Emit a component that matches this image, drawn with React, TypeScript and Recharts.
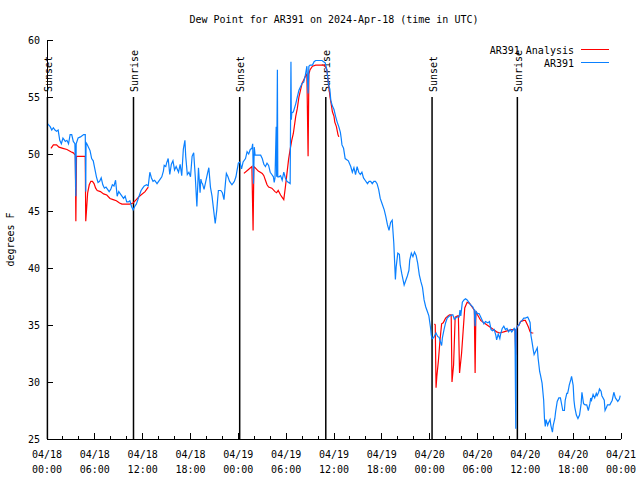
import { LineChart, Line, XAxis, YAxis, ReferenceLine, Legend } from 'recharts'

const FONT = "'DejaVu Sans Mono', 'Liberation Mono', monospace"

type Row = [number, number | null]

// hours since 04/18 00:00 UTC, dew point in F
const ar391Analysis: Row[] = [
  [0.5, 50.5], [0.8, 50.8], [1.2, 50.8], [1.5, 50.6], [2.0, 50.5], [2.5, 50.4], [3.0, 50.2], [3.3, 50.1],
  [3.55, 49.9], [3.62, 44.1], [3.7, 49.8], [4.4, 49.8], [4.8, 49.8], [4.86, 44.1], [4.95, 45.0], [5.1, 46.6],
  [5.3, 47.3], [5.5, 47.6], [5.7, 47.6], [5.9, 47.4], [6.1, 47.0], [6.3, 46.8], [6.7, 46.7], [7.1, 46.5],
  [7.5, 46.4], [7.9, 46.1], [8.3, 46.0], [8.7, 45.9], [9.1, 45.7], [9.4, 45.6], [9.8, 45.6], [10.4, 45.6],
  [10.8, 45.7], [11.2, 46.0], [11.6, 46.3], [12.3, 46.7], [12.7, 47.1],
  [18.0, null],
  [24.7, 48.3], [25.2, 48.6], [25.7, 48.9], [25.85, 43.3], [25.95, 48.9], [26.1, 48.8], [26.5, 48.5],
  [27.0, 48.3], [27.2, 48.1], [27.4, 47.7], [27.6, 47.3], [27.8, 47.1], [28.2, 47.0], [28.6, 46.7],
  [28.8, 46.6], [29.0, 46.8], [29.3, 46.4], [29.5, 46.2], [29.7, 46.0], [29.9, 47.1], [30.1, 48.3],
  [30.3, 49.5], [30.5, 50.4], [30.7, 51.2], [30.9, 51.8], [31.2, 53.3], [31.4, 54.0], [31.6, 55.0],
  [31.8, 55.6], [32.0, 56.2], [32.2, 56.5], [32.4, 56.8], [32.6, 57.0], [32.75, 49.8], [32.85, 57.0],
  [33.0, 57.4], [33.3, 57.7], [33.7, 57.8], [34.4, 57.8], [34.8, 57.8], [35.1, 57.4], [35.3, 56.2],
  [35.5, 55.0], [35.6, 54.6], [35.8, 53.7], [36.0, 53.3], [36.1, 52.8], [36.3, 52.4], [36.5, 51.7], [36.6, 51.5],
  [42.0, null],
  [48.6, 35.1], [48.7, 35.0], [48.8, 29.5], [48.9, 30.5], [49.1, 31.9], [49.3, 33.7], [49.5, 35.1],
  [49.7, 35.2], [50.0, 35.6], [50.3, 35.8], [50.5, 35.9], [50.7, 35.9], [50.8, 30.0], [51.0, 31.5],
  [51.2, 35.7], [51.5, 35.8], [51.6, 35.8], [51.75, 30.8], [52.0, 32.5], [52.2, 34.5], [52.4, 36.5],
  [52.7, 37.0], [53.0, 36.9], [53.3, 36.6], [53.6, 36.3], [53.7, 30.8], [53.8, 36.2], [54.0, 35.9],
  [54.4, 35.4], [54.8, 35.2], [55.2, 35.0], [55.6, 34.8], [56.0, 34.6], [56.4, 34.4], [56.8, 34.3],
  [57.3, 34.4], [57.8, 34.5], [58.3, 34.6], [58.7, 34.6], [58.8, 32.4], [58.9, 34.7], [59.0, 34.9],
  [59.2, 35.0], [59.4, 35.3], [59.8, 35.4], [60.0, 35.4], [60.2, 35.1], [60.4, 34.8], [60.6, 34.4],
  [60.8, 34.3], [61.0, 34.3],
]

const ar391Obs: Row[] = [
  [0.0, 52.7], [0.4, 52.4], [0.6, 52.1], [0.8, 52.3], [1.0, 52.1], [1.2, 52.0], [1.4, 52.1], [1.6, 51.2],
  [1.8, 50.9], [2.0, 51.4], [2.3, 51.1], [2.5, 51.2], [2.7, 50.9], [2.9, 51.7], [3.1, 51.7], [3.3, 51.1],
  [3.5, 50.9], [3.62, 46.3], [3.66, 50.9], [3.9, 51.4], [4.2, 51.5], [4.4, 51.6], [4.6, 51.7], [4.8, 51.7],
  [4.86, 46.7], [4.9, 51.0], [5.0, 50.9], [5.2, 50.6], [5.4, 50.3], [5.6, 49.6], [5.8, 49.4], [6.0, 48.7],
  [6.2, 48.0], [6.4, 47.5], [6.6, 47.6], [6.8, 47.9], [7.0, 47.3], [7.2, 47.0], [7.4, 47.1], [7.6, 46.9],
  [7.8, 46.7], [8.0, 46.9], [8.2, 47.3], [8.4, 47.2], [8.6, 47.7], [8.8, 46.3], [9.0, 46.7], [9.2, 46.5],
  [9.4, 46.3], [9.6, 46.1], [9.8, 46.3], [10.0, 45.8], [10.2, 45.8], [10.4, 45.9], [10.6, 45.4], [10.8, 45.1],
  [11.0, 45.4], [11.2, 45.6], [11.4, 46.0], [11.6, 46.4], [11.8, 46.8], [12.0, 47.0], [12.2, 47.2], [12.5, 47.3],
  [12.7, 47.2], [12.9, 48.4], [13.1, 47.9], [13.3, 47.6], [13.5, 47.7], [13.8, 47.4], [14.0, 47.6], [14.2, 47.8],
  [14.4, 48.0], [14.6, 48.5], [14.7, 49.0], [14.9, 48.9], [15.0, 49.2], [15.2, 49.6], [15.4, 48.2], [15.6, 49.1],
  [15.8, 49.4], [16.0, 48.6], [16.2, 48.9], [16.5, 48.4], [16.7, 49.1], [16.9, 48.1], [17.1, 50.4], [17.3, 51.2],
  [17.4, 49.8], [17.6, 48.2], [17.8, 48.4], [18.0, 48.0], [18.2, 49.8], [18.4, 50.1], [18.6, 48.0], [18.8, 45.4],
  [19.0, 48.8], [19.2, 46.6], [19.3, 47.8], [19.4, 47.5], [19.5, 47.4], [19.7, 46.9], [20.1, 48.2], [20.3, 48.8],
  [20.5, 47.1], [20.7, 46.3], [20.9, 45.1], [21.1, 43.9], [21.3, 45.1], [21.4, 46.0], [21.5, 46.8], [21.8, 46.8],
  [22.0, 46.6], [22.2, 46.0], [22.4, 47.6], [22.5, 48.3], [22.7, 48.0], [22.9, 47.6], [23.2, 47.3], [23.5, 47.6],
  [23.7, 48.0], [24.0, 49.2], [24.2, 49.3], [24.4, 48.7], [24.6, 49.3], [24.9, 49.6], [25.1, 50.2], [25.3, 50.0],
  [25.5, 50.4], [25.7, 50.5], [25.8, 50.9], [25.9, 47.4], [26.0, 50.6], [26.1, 49.9], [26.5, 49.9], [26.8, 49.9],
  [27.0, 49.6], [27.2, 49.1], [27.4, 48.9], [27.6, 49.2], [27.8, 49.0], [28.0, 48.4], [28.2, 48.2], [28.4, 48.0],
  [28.5, 47.5], [28.6, 47.9], [28.75, 52.4], [28.8, 48.0], [28.9, 57.4], [28.95, 48.0], [29.1, 48.0], [29.3, 48.1],
  [29.5, 47.7], [29.7, 48.4], [29.9, 47.9], [30.1, 47.6], [30.5, 47.4], [30.6, 58.1], [30.65, 53.0], [30.7, 53.6],
  [30.9, 53.7], [31.2, 54.4], [31.4, 55.0], [31.6, 55.6], [31.8, 55.9], [32.0, 56.2], [32.2, 56.3], [32.4, 56.9],
  [32.5, 57.3], [32.6, 57.7], [32.75, 55.3], [32.85, 57.7], [33.0, 57.8], [33.3, 57.8], [33.5, 58.1], [33.7, 58.2],
  [34.1, 58.2], [34.5, 58.2], [34.7, 58.1], [34.9, 58.0], [35.1, 57.4], [35.3, 56.2], [35.5, 55.5], [35.6, 54.7],
  [35.8, 54.2], [36.0, 53.9], [36.2, 53.3], [36.4, 52.8], [36.6, 52.4], [36.8, 51.9], [36.9, 51.4], [37.0, 50.8],
  [37.2, 50.5], [37.4, 49.6], [37.6, 49.5], [37.8, 49.4], [38.1, 48.9], [38.3, 48.4], [38.5, 48.8], [38.7, 48.2],
  [38.9, 48.9], [39.1, 48.4], [39.3, 48.2], [39.5, 48.4], [39.7, 47.9], [39.9, 47.7], [40.2, 47.4], [40.4, 47.6],
  [40.6, 47.6], [40.8, 47.4], [41.0, 47.6], [41.2, 47.6], [41.4, 47.4], [41.6, 46.9], [41.8, 46.1], [42.0, 45.7],
  [42.3, 45.1], [42.5, 44.5], [42.7, 43.8], [42.9, 43.3], [43.1, 44.0], [43.3, 44.2], [43.5, 42.2], [43.7, 39.0],
  [43.8, 40.1], [44.0, 41.3], [44.2, 41.2], [44.3, 40.3], [44.5, 39.5], [44.8, 38.5], [45.0, 38.9], [45.2, 39.3],
  [45.4, 39.8], [45.5, 40.7], [45.7, 41.3], [45.9, 41.0], [46.1, 41.4], [46.3, 41.1], [46.5, 40.4], [46.7, 39.4],
  [46.9, 38.8], [47.1, 38.3], [47.3, 37.2], [47.5, 36.6], [47.7, 36.2], [47.9, 35.8], [48.1, 34.8], [48.2, 34.1],
  [48.3, 33.8], [48.5, 33.9], [48.8, 34.3], [49.0, 34.0], [49.2, 33.9], [49.4, 33.4], [49.5, 33.2], [49.6, 33.9],
  [49.8, 34.6], [50.0, 35.2], [50.2, 35.6], [50.5, 35.8], [50.9, 35.9], [51.1, 35.5], [51.4, 35.7], [51.7, 35.7],
  [51.8, 36.3], [51.9, 35.8], [52.1, 37.0], [52.3, 37.2], [52.5, 37.3], [52.7, 37.2], [52.9, 37.0], [53.1, 36.8],
  [53.4, 36.6], [53.6, 36.3], [53.7, 34.9], [53.8, 36.2], [54.0, 36.0], [54.2, 36.0], [54.4, 35.7], [54.6, 35.4],
  [54.8, 35.1], [55.0, 35.3], [55.3, 35.2], [55.5, 35.3], [55.7, 34.6], [55.9, 34.5], [56.1, 34.6], [56.3, 34.1],
  [56.4, 33.7], [56.6, 34.2], [56.8, 33.8], [56.9, 34.2], [57.1, 34.7], [57.3, 34.9], [57.5, 34.6], [57.7, 34.7],
  [57.9, 34.4], [58.1, 34.6], [58.3, 34.4], [58.6, 34.7], [58.7, 34.6], [58.8, 25.9], [58.85, 34.6], [59.0, 34.9],
  [59.2, 35.0], [59.4, 35.3], [59.6, 35.4], [59.8, 35.6], [60.0, 35.6], [60.3, 35.7], [60.5, 35.4], [60.6, 35.2],
  [60.7, 34.1], [60.8, 33.7], [61.0, 32.8], [61.1, 32.4], [61.3, 32.7], [61.5, 33.0], [61.6, 32.1], [61.8, 30.9],
  [61.9, 30.6], [62.1, 29.9], [62.3, 28.4], [62.4, 26.8], [62.5, 26.1], [62.6, 26.7], [62.8, 26.2], [62.9, 26.4],
  [63.1, 26.7], [63.2, 26.2], [63.4, 25.6], [63.5, 26.2], [63.7, 26.8], [63.8, 27.4], [64.0, 28.3], [64.2, 28.6],
  [64.4, 28.6], [64.7, 27.5], [64.9, 27.5], [65.0, 28.4], [65.2, 29.0], [65.3, 29.0], [65.4, 29.3], [65.5, 29.7],
  [65.7, 30.2], [65.8, 30.5], [66.0, 29.7], [66.1, 28.4], [66.2, 27.8], [66.4, 27.1], [66.6, 26.8], [66.8, 27.1],
  [67.0, 28.1], [67.1, 29.1], [67.3, 28.1], [67.5, 28.0], [67.7, 28.0], [67.9, 27.5], [68.1, 28.1], [68.2, 28.6],
  [68.3, 28.4], [68.5, 28.9], [68.7, 28.6], [68.9, 29.0], [69.0, 28.8], [69.2, 29.1], [69.3, 29.4], [69.5, 29.2],
  [69.6, 28.8], [69.9, 28.4], [70.0, 27.5], [70.2, 27.8], [70.3, 28.0], [70.6, 28.0], [70.9, 28.4], [71.1, 29.1],
  [71.3, 28.6], [71.6, 28.3], [71.8, 28.5], [71.9, 28.8],
]

const sunEvents: [number, string][] = [
  [0.05, 'Sunset'], [10.85, 'Sunrise'], [24.17, 'Sunset'], [34.97, 'Sunrise'], [48.3, 'Sunset'], [59.0, 'Sunrise'],
]

const xTicks = Array.from({ length: 37 }, (_, i) => i * 2)
const yTicks = [25, 30, 35, 40, 45, 50, 55, 60]

const toPoints = (rows: Row[]) => rows.map(([t, v]) => ({ t, v }))

const pad = (n: number) => (n < 10 ? `0${n}` : `${n}`)

const BottomTick = ({ x, y, payload }: any) => {
  const t = payload.value
  const major = t % 6 === 0
  return (
    <g>
      <line x1={x} y1={y} x2={x} y2={y - (major ? 6 : 3)} stroke="#000" shapeRendering="crispEdges" />
      {major && (
        <text x={x} y={y + 19} textAnchor="middle" fontSize={10} fontFamily={FONT} fill="#000">
          {`04/${18 + Math.floor(t / 24)}`}
        </text>
      )}
      {major && (
        <text x={x} y={y + 34} textAnchor="middle" fontSize={10} fontFamily={FONT} fill="#000">
          {`${pad(t % 24)}:00`}
        </text>
      )}
    </g>
  )
}

const TopTick = ({ x, y, payload }: any) => {
  const major = payload.value % 6 === 0
  return <line x1={x} y1={y} x2={x} y2={y + (major ? 6 : 3)} stroke="#000" shapeRendering="crispEdges" />
}

const LeftTick = ({ x, y, payload }: any) => (
  <g>
    <line x1={x} y1={y} x2={x + 6} y2={y} stroke="#000" shapeRendering="crispEdges" />
    <text x={x - 7} y={y} textAnchor="end" dominantBaseline="central" fontSize={10} fontFamily={FONT} fill="#000">
      {payload.value}
    </text>
  </g>
)

const RightTick = ({ x, y }: any) => <line x1={x} y1={y} x2={x - 6} y2={y} stroke="#000" shapeRendering="crispEdges" />

const sunLabel = (text: string) => (props: any) => {
  const vb = props.viewBox || {}
  const x = (vb.x ?? vb.x1) + 1
  const y = (vb.y ?? Math.min(vb.y1, vb.y2)) - 5
  return (
    <text x={x} y={y} transform={`rotate(-90 ${x} ${y})`} textAnchor="start" dominantBaseline="central"
      fontSize={10} fontFamily={FONT} fill="#000">
      {text}
    </text>
  )
}

const yLabel = (props: any) => {
  const vb = props.viewBox || {}
  const x = 10
  const y = vb.y + vb.height / 2
  return (
    <text x={x} y={y} transform={`rotate(-90 ${x} ${y})`} textAnchor="middle" dominantBaseline="central"
      fontSize={10} fontFamily={FONT} fill="#000">
      degrees F
    </text>
  )
}

const renderLegend = () => (
  <svg width={160} height={30}>
    <text x={114} y={9} textAnchor="end" dominantBaseline="central" fontSize={10} fontFamily={FONT} fill="#000">
      AR391 Analysis
    </text>
    <line x1={121} y1={8.5} x2={149} y2={8.5} stroke="#ff0000" />
    <text x={114} y={22} textAnchor="end" dominantBaseline="central" fontSize={10} fontFamily={FONT} fill="#000">
      AR391
    </text>
    <line x1={121} y1={21.5} x2={149} y2={21.5} stroke="#0a80ff" />
  </svg>
)

export default function App() {
  return (
    <div style={{ position: 'absolute', left: 0, top: 0, width: 640, height: 480, background: '#fff' }}>
      <div style={{ position: 'absolute', left: 47, width: 574, top: 13, textAlign: 'center', fontFamily: FONT, fontSize: 10, lineHeight: '14px', zIndex: 2 }}>
        Dew Point for AR391 on 2024-Apr-18 (time in UTC)
      </div>
      <LineChart width={640} height={480} margin={{ top: 40, right: 19, bottom: 11, left: 0 }}>
        <XAxis dataKey="t" type="number" domain={[0, 72]} ticks={xTicks} allowDataOverflow
          height={30} tickSize={0} tickMargin={0} tickLine={false} axisLine={{ stroke: '#000', shapeRendering: 'crispEdges' }}
          tick={<BottomTick />} interval={0} />
        <XAxis xAxisId="top" orientation="top" type="number" domain={[0, 72]} ticks={xTicks} allowDataOverflow
          height={0} tickSize={0} tickMargin={0} tickLine={false} axisLine={{ stroke: '#000', shapeRendering: 'crispEdges' }}
          tick={<TopTick />} interval={0} />
        <YAxis type="number" domain={[25, 60]} ticks={yTicks} allowDataOverflow width={47}
          tickSize={0} tickMargin={0} tickLine={false} axisLine={{ stroke: '#000', shapeRendering: 'crispEdges' }}
          tick={<LeftTick />} interval={0} label={yLabel} />
        <YAxis yAxisId="right" orientation="right" type="number" domain={[25, 60]} ticks={yTicks} allowDataOverflow
          width={0} tickSize={0} tickMargin={0} tickLine={false} axisLine={{ stroke: '#000', shapeRendering: 'crispEdges' }}
          tick={<RightTick />} interval={0} />
        {sunEvents.map(([h, name], i) => (
          <ReferenceLine key={`sun-${i}`} segment={[{ x: h, y: 25 }, { x: h, y: 55 }]} stroke="#000"
            strokeWidth={1.5} label={sunLabel(name)} />
        ))}
        <Line data={toPoints(ar391Analysis)} dataKey="v" name="AR391 Analysis" type="linear" stroke="#ff0000"
          strokeWidth={1.2} dot={false} connectNulls={false} isAnimationActive={false} />
        <Line data={toPoints(ar391Obs)} dataKey="v" name="AR391" type="linear" stroke="#0a80ff"
          strokeWidth={1.2} dot={false} isAnimationActive={false} />
        <Legend layout="vertical" align="center" verticalAlign="middle" content={renderLegend}
          wrapperStyle={{ left: 460, top: 41, width: 160, height: 30 }} />
      </LineChart>
    </div>
  )
}
